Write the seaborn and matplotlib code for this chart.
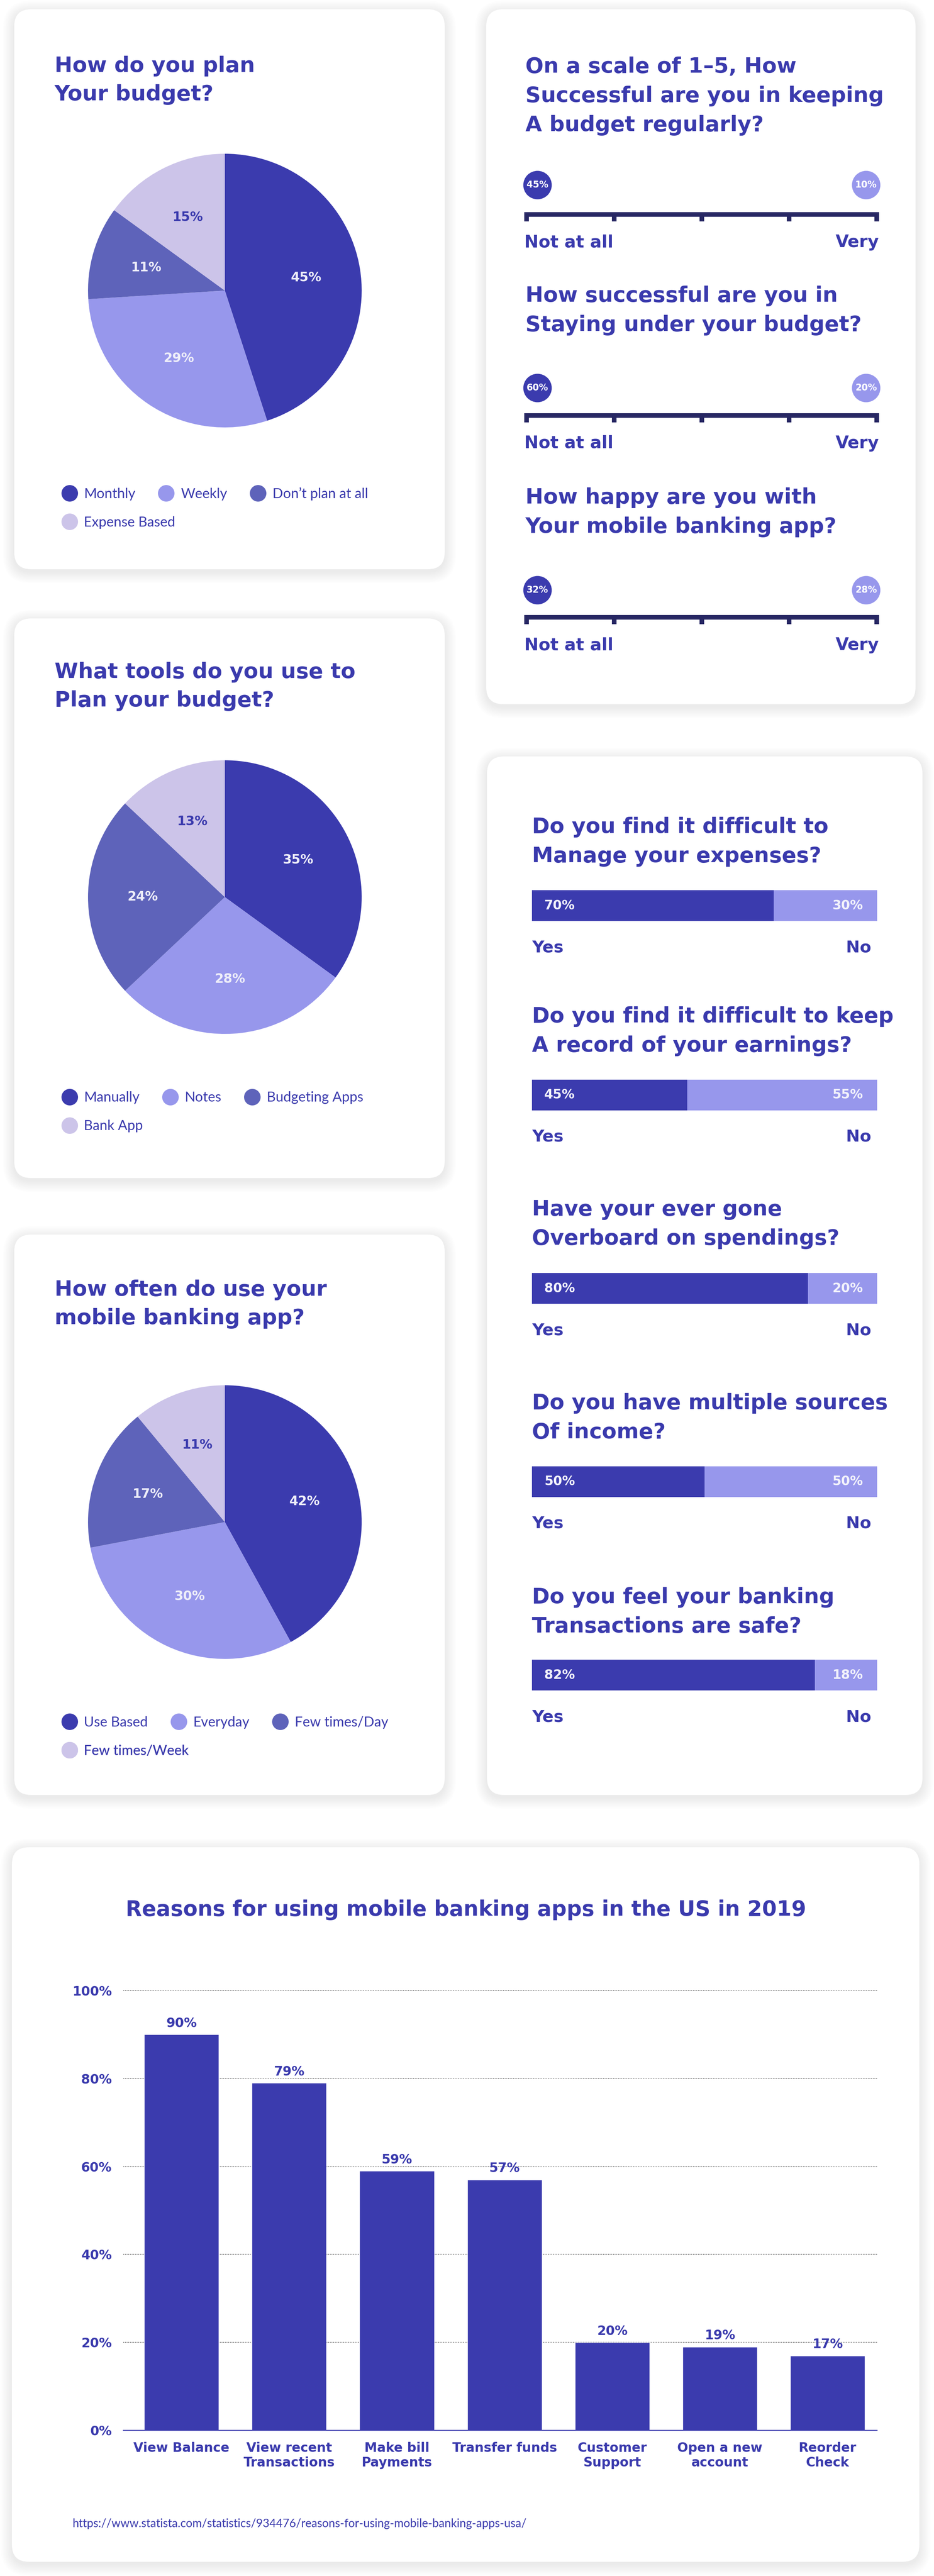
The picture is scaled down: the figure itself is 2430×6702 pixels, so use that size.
import matplotlib.pyplot as plt
import seaborn as sns
from matplotlib.patches import FancyBboxPatch
from matplotlib.lines import Line2D
from matplotlib.transforms import offset_copy

# ---------------- data ----------------
plan_labels = ['Monthly', 'Weekly', 'Don’t plan at all', 'Expense Based']
plan_values = [45, 29, 11, 15]

tool_labels = ['Manually', 'Notes', 'Budgeting Apps', 'Bank App']
tool_values = [35, 28, 24, 13]

usage_labels = ['Use Based', 'Everyday', 'Few times/Day', 'Few times/Week']
usage_values = [42, 30, 17, 11]

scale_ticks = [1, 2, 3, 4, 5]
scale_end_labels = ['Not at all', 'Very']
scale_questions = [
    ['On a scale of 1–5, How', 'Successful are you in keeping', 'A budget regularly?'],
    ['How successful are you in', 'Staying under your budget?'],
    ['How happy are you with', 'Your mobile banking app?'],
]
scale_low = [45, 60, 32]
scale_high = [10, 20, 28]

yn_questions = [
    ['Do you find it difficult to', 'Manage your expenses?'],
    ['Do you find it difficult to keep', 'A record of your earnings?'],
    ['Have your ever gone', 'Overboard on spendings?'],
    ['Do you have multiple sources', 'Of income?'],
    ['Do you feel your banking', 'Transactions are safe?'],
]
yn_yes = [70, 45, 80, 50, 82]
yn_no = [30, 55, 20, 50, 18]

reasons = ['View Balance', 'View recent\nTransactions', 'Make bill\nPayments', 'Transfer funds',
           'Customer\nSupport', 'Open a new\naccount', 'Reorder\nCheck']
reason_values = [90, 79, 59, 57, 20, 19, 17]
y_ticks = [0, 20, 40, 60, 80, 100]
source_url = 'https://www.statista.com/statistics/934476/reasons-for-using-mobile-banking-apps-usa/'

# ---------------- style ----------------
BLUE = '#3A3AAD'
DARK = '#3B3BAE'
LIGHT = '#9797EC'
MID = '#5E63BA'
PALE = '#CCC4E9'
NAVY = '#272763'
PIE_COLORS = [DARK, LIGHT, MID, PALE]
PIE_TEXT = ['#EEEEF9', '#EEEEF9', '#EEEEF9', BLUE]

sns.set_theme(style='white')
plt.rcParams['font.family'] = ['DejaVu Sans']

W, H = 2430, 6702
fig = plt.figure(figsize=(W / 100, H / 100), dpi=100, facecolor='white')


def add_ax(x0, y0, x1, y1):
    return fig.add_axes([x0 / W, 1 - y1 / H, (x1 - x0) / W, (y1 - y0) / H])


bg = add_ax(0, 0, W, H)
bg.set_xlim(0, W)
bg.set_ylim(H, 0)
bg.axis('off')

# cards with soft shadow
cards = [(37, 24, 1157, 1481), (1265, 24, 2382, 1832), (37, 1609, 1157, 3065),
         (37, 3212, 1157, 4670), (1267, 1968, 2400, 4670), (31, 4806, 2392, 6665)]
for x0, y0, x1, y1 in cards:
    for i in range(10):
        p = 2 + 3 * i
        bg.add_patch(FancyBboxPatch((x0 - p, y0 - p + 7), x1 - x0 + 2 * p, y1 - y0 + 2 * p,
                                    boxstyle=f'round,pad=0,rounding_size={44 + p}',
                                    fc='black', ec='none', alpha=0.008))
    bg.add_patch(FancyBboxPatch((x0, y0), x1 - x0, y1 - y0,
                                boxstyle='round,pad=0,rounding_size=44', fc='white', ec='none'))


def title(x, y, lines, gap=76, size=40):
    for i, line in enumerate(lines):
        bg.text(x, y + i * gap, line, fontsize=size, fontweight='bold', color=BLUE,
                ha='left', va='baseline')


# ---------------- pie cards ----------------
R = 356
leg_kw = dict(loc='center left', frameon=False, borderpad=0, borderaxespad=0,
              handlelength=1.22, handletextpad=0.44, columnspacing=1.6,
              labelcolor=BLUE, prop={'family': 'Lato', 'size': 26, 'weight': 'normal'},
              bbox_transform=bg.transData)


def pie_card(cx, cy, labels, values, title_lines, title_y, legend_y):
    title(142, title_y, title_lines, gap=74)
    ax = add_ax(cx - R, cy - R, cx + R, cy + R)
    wedges, texts, autotexts = ax.pie(
        values, colors=PIE_COLORS, startangle=90, counterclock=False,
        autopct=lambda p: f'{p:.0f}%', pctdistance=0.6,
        wedgeprops={'linewidth': 0},
        textprops={'fontsize': 24, 'fontweight': 'bold'})
    for t, c in zip(autotexts, PIE_TEXT):
        t.set_color(c)
    ax.set_xlim(-1, 1)
    ax.set_ylim(-1, 1)
    handles = [Line2D([], [], ls='', marker='o', ms=31, mfc=c, mec='none') for c in PIE_COLORS]
    leg1 = bg.legend(handles[:3], labels[:3], ncol=3, bbox_to_anchor=(158.5, legend_y), **leg_kw)
    bg.add_artist(leg1)
    leg2 = bg.legend(handles[3:], labels[3:], bbox_to_anchor=(158.5, legend_y + 74), **leg_kw)
    bg.add_artist(leg2)


pie_card(585, 756, plan_labels, plan_values, ['How do you plan', 'Your budget?'], 187, 1285)
pie_card(585, 2334, tool_labels, tool_values, ['What tools do you use to', 'Plan your budget?'], 1764, 2856)
pie_card(585, 3960, usage_labels, usage_values, ['How often do use your', 'mobile banking app?'], 3371, 4481)

# ---------------- 1-5 scale card ----------------
scale_title_y = [189, 785, 1310]
bubble_y = [481, 1009, 1535]
line_y = [558, 1081, 1606]
px_unit = 227.75
for q, ty, by, ly, lo, hi in zip(scale_questions, scale_title_y, bubble_y, line_y, scale_low, scale_high):
    title(1367, ty, q)
    ax = add_ax(1364, by - 45, 2287, ly + 25)
    ax.set_xlim(scale_ticks[0] - 6 / px_unit, scale_ticks[-1] + 6 / px_unit)
    ax.set_ylim(ly + 25, by - 45)
    ax.axis('off')
    ax.plot([scale_ticks[0], scale_ticks[-1]], [ly, ly], color=NAVY, lw=8.64,
            solid_capstyle='projecting', clip_on=False)
    ax.vlines(scale_ticks, ly, ly + 18, color=NAVY, lw=8.64)
    for xv, val, col, off in [(scale_ticks[0], lo, DARK, 28), (scale_ticks[-1], hi, LIGHT, -28)]:
        tr = offset_copy(ax.transData, fig=fig, x=off, y=0, units='dots')
        ax.scatter([xv], [by], s=53.3 ** 2, color=col, linewidths=0, transform=tr, clip_on=False)
        ax.text(xv, by, f'{val}%', transform=tr, ha='center', va='center', color='white',
                fontsize=17, fontweight='bold')
    bg.text(1364, ly + 85, scale_end_labels[0], fontsize=32, fontweight='bold', color=BLUE,
            ha='left', va='baseline')
    bg.text(2287, ly + 85, scale_end_labels[1], fontsize=32, fontweight='bold', color=BLUE,
            ha='right', va='baseline')

# ---------------- yes / no card ----------------
yn_title_y = [2167, 2660, 3162, 3666, 4171]
bar_top = [2316, 2809, 3312, 3815, 4318]
for q, ty, bt, yes, no in zip(yn_questions, yn_title_y, bar_top, yn_yes, yn_no):
    title(1384, ty, q)
    ax = add_ax(1384, bt, 2282, bt + 80)
    ax.barh(0, yes, height=1, color=DARK, linewidth=0)
    ax.barh(0, no, left=yes, height=1, color=LIGHT, linewidth=0)
    ax.set_xlim(0, 100)
    ax.set_ylim(-0.5, 0.5)
    ax.axis('off')
    ax.annotate(f'{yes}%', xy=(0, 0), xytext=(23, 0), textcoords='offset points',
                ha='left', va='center', color='#F2F2FB', fontsize=24, fontweight='bold')
    ax.annotate(f'{no}%', xy=(100, 0), xytext=(-26.5, 0), textcoords='offset points',
                ha='right', va='center', color='#F2F2FB', fontsize=24, fontweight='bold')
    bg.text(1384, bt + 161, 'Yes', fontsize=31, fontweight='bold', color=BLUE,
            ha='left', va='baseline')
    bg.text(2267, bt + 161, 'No', fontsize=31, fontweight='bold', color=BLUE,
            ha='right', va='baseline')

# ---------------- bar chart card ----------------
bg.text(1212, 4984, 'Reasons for using mobile banking apps in the US in 2019', fontsize=39.5,
        fontweight='bold', color=BLUE, ha='center', va='baseline')
unit = 11.44
ymax = 101
ax = add_ax(321, 6323 - ymax * unit, 2282, 6323)
sns.barplot(x=reasons, y=reason_values, color=DARK, saturation=1, width=0.693, ax=ax)
ax.set_xlim(-0.54, 6.46)
ax.set_ylim(0, ymax)
ax.set_facecolor('none')
ax.set_yticks(y_ticks)
ax.set_yticklabels([f'{t}%' for t in y_ticks])
ax.grid(axis='y', color='#4A4A4A', lw=1.3, ls=(0, (1.0, 1.4)))
ax.grid(axis='x', visible=False)
ax.set_axisbelow(True)
for s in ['top', 'right', 'left']:
    ax.spines[s].set_visible(False)
ax.spines['bottom'].set_color(DARK)
ax.spines['bottom'].set_linewidth(1.6)
ax.tick_params(axis='both', length=0, labelsize=24, labelcolor=BLUE, pad=21.6)
for lbl in ax.get_xticklabels() + ax.get_yticklabels():
    lbl.set_fontweight('bold')
ax.set_xlabel('')
ax.set_ylabel('')
ax.bar_label(ax.containers[0], labels=[f'{v}%' for v in reason_values], padding=9,
             fontsize=24, fontweight='bold', color=BLUE)

bg.text(189, 6566, source_url, fontsize=21.5, color=BLUE, ha='left', va='center',
        family='Lato', fontweight='normal')

fig.savefig('out.png', dpi=100, facecolor='white')
